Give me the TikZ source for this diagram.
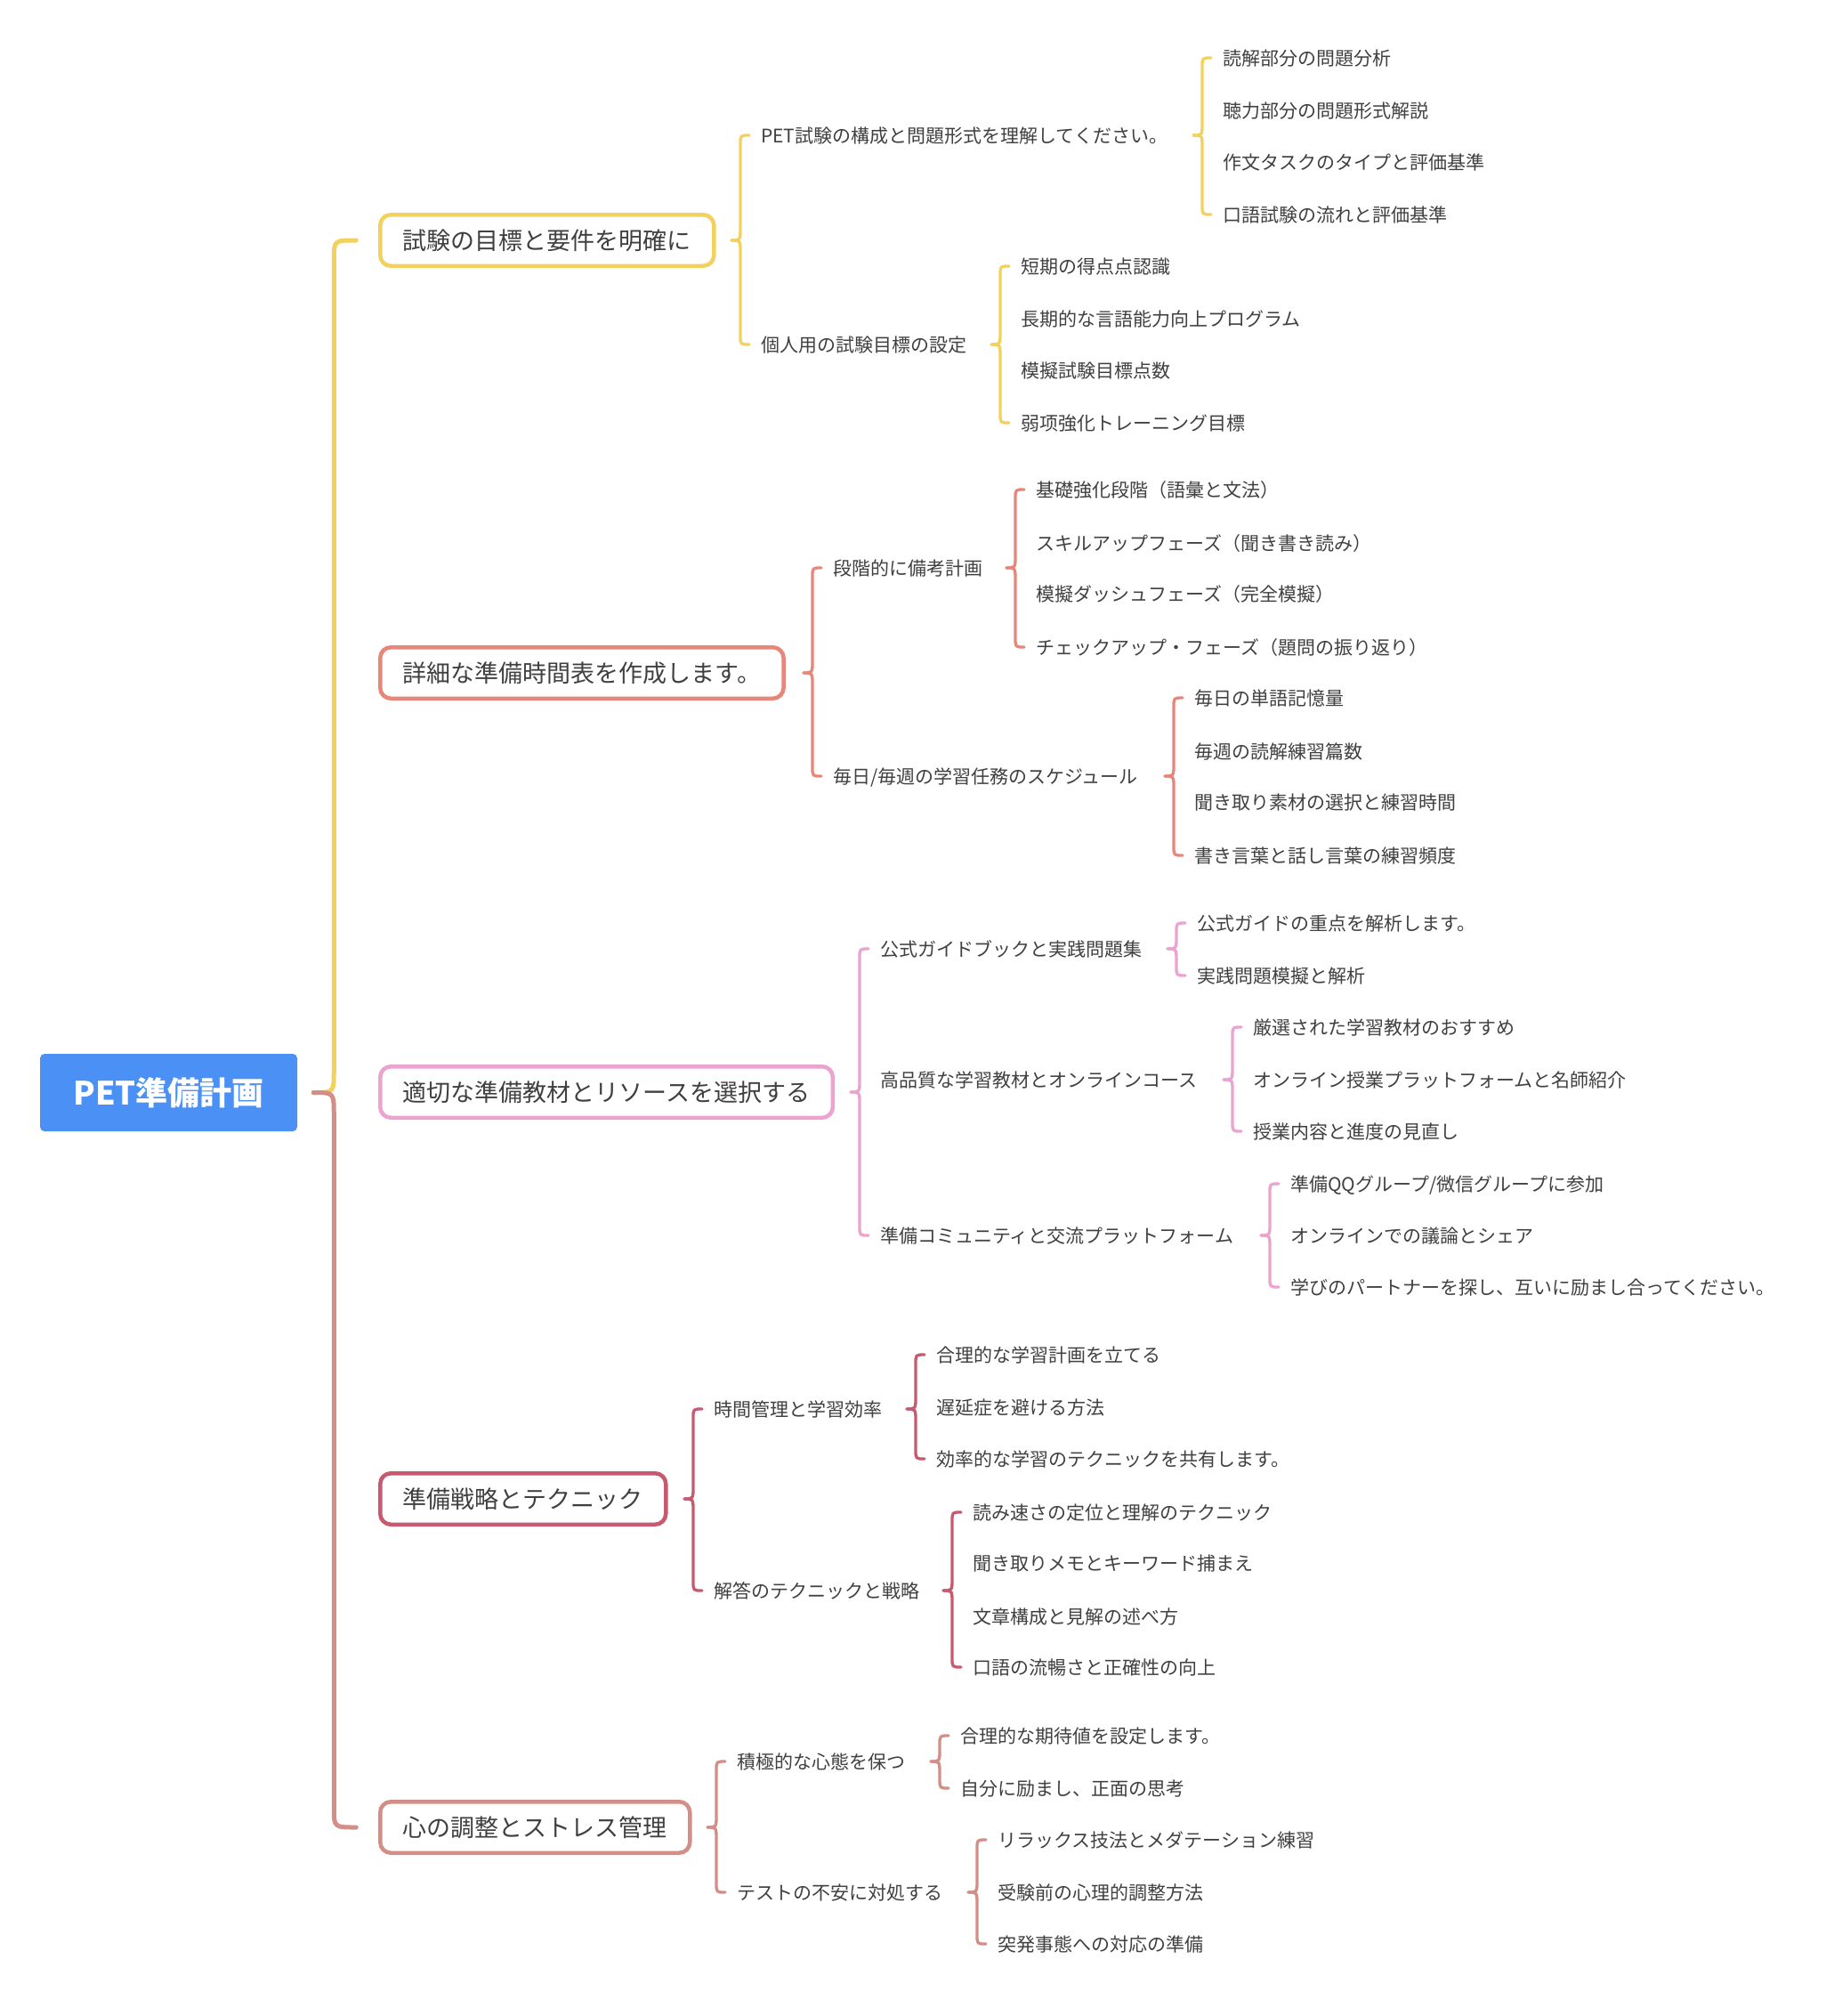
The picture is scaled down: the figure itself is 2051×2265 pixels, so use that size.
\documentclass[tikz,border=0pt]{standalone}
\usepackage{fontspec}
\setmainfont{Noto Sans CJK JP}
\usetikzlibrary{calc}
\definecolor{cY}{HTML}{F2D15E}
\definecolor{cS}{HTML}{E9867A}
\definecolor{cP}{HTML}{EBA3D0}
\definecolor{cC}{HTML}{C75A6E}
\definecolor{cB}{HTML}{D38E87}
\definecolor{rootblue}{HTML}{4A90F5}
\definecolor{txt}{HTML}{404040}
\tikzset{
  leaf/.style={anchor=west, inner sep=0pt, text=txt, font=\fontsize{21pt}{25pt}\selectfont, text height=18.5pt, text depth=2.5pt},
  topic/.style={draw=#1, line width=4.5pt, outer sep=0pt, rounded corners=12pt, fill=white, text=txt,
     font=\fontsize{27pt}{32pt}\selectfont, text height=23.8pt, text depth=3.2pt, inner xsep=25.5pt, inner ysep=0pt,
     minimum height=57.5pt, anchor=west},
  rootbox/.style={fill=rootblue, rounded corners=5pt, minimum width=289pt, minimum height=87pt, inner sep=0pt,
     text=white, font=\fontsize{36pt}{40pt}\selectfont\bfseries, text height=31.7pt, text depth=4.3pt},
  brc/.style={line width=3.3pt, line cap=round},
  mainline/.style={line width=5pt, line cap=round}
}
\newcommand\subbrc[3]{%
  \draw[brc,#3] let \p1=(#1.east), \p2=(#2.west), \n1={sign(\y2-\y1)} in
    (\x2-33pt,\y1) .. controls (\x2-23pt,\y1) .. (\x2-23pt,{\y1+(\n1)*14pt})
    -- (\x2-23pt,{\y2-(\n1)*10pt}) .. controls (\x2-23pt,\y2) .. (\x2-13pt,\y2);}
\newcommand\mainbrc[3]{%
  \draw[mainline,#3] let \p1=(#1.east), \p2=(#2.west), \n1={sign(\y2-\y1)} in
    (\x2-75pt,\y1) .. controls (\x2-52pt,\y1) .. (\x2-52pt,{\y1+(\n1)*25pt})
    -- (\x2-52pt,{\y2-(\n1)*22pt}) .. controls (\x2-52pt,\y2) .. (\x2-27pt,\y2);}
\begin{document}
\begin{tikzpicture}[x=1pt,y=-1pt]
\useasboundingbox (0,0) rectangle (2051,2265);
\fill[white] (0,0) rectangle (2051,2265);

% root
\node[rootbox] (root) at (189.5,1227.5) {PET準備計画};

% level 1
\node[topic=cY] (t1) at (427.25,270) {試験の目標と要件を明確に};
\node[topic=cS] (t2) at (427.25,756) {詳細な準備時間表を作成します。};
\node[topic=cP] (t3) at (427.25,1227) {適切な準備教材とリソースを選択する};
\node[topic=cC] (t4) at (427.25,1684) {準備戦略とテクニック};
\node[topic=cB] (t5) at (427.25,2053) {心の調整とストレス管理};

% level 2
\node[leaf] (a1) at (855,152) {PET試験の構成と問題形式を理解してください。};
\node[leaf] (a2) at (855,387) {個人用の試験目標の設定};
\node[leaf] (b1) at (936,638) {段階的に備考計画};
\node[leaf] (b2) at (936,872) {毎日/毎週の学習任務のスケジュール};
\node[leaf] (c1) at (989,1066) {公式ガイドブックと実践問題集};
\node[leaf] (c2) at (989,1213) {高品質な学習教材とオンラインコース};
\node[leaf] (c3) at (989,1388) {準備コミュニティと交流プラットフォーム};
\node[leaf] (d1) at (802,1583) {時間管理と学習効率};
\node[leaf] (d2) at (802,1787) {解答のテクニックと戦略};
\node[leaf] (e1) at (828,1979) {積極的な心態を保つ};
\node[leaf] (e2) at (828,2126) {テストの不安に対処する};

% level 3
\node[leaf] (a11) at (1374,65) {読解部分の問題分析};
\node[leaf] (a12) at (1374,124) {聴力部分の問題形式解説};
\node[leaf] (a13) at (1374,182) {作文タスクのタイプと評価基準};
\node[leaf] (a14) at (1374,241) {口語試験の流れと評価基準};
\node[leaf] (a21) at (1147,299) {短期の得点点認識};
\node[leaf] (a22) at (1147,358) {長期的な言語能力向上プログラム};
\node[leaf] (a23) at (1147,416) {模擬試験目標点数};
\node[leaf] (a24) at (1147,475) {弱项強化トレーニング目標};
\node[leaf] (b11) at (1164,550) {基礎強化段階（語彙と文法）};
\node[leaf] (b12) at (1164,610) {スキルアップフェーズ（聞き書き読み）};
\node[leaf] (b13) at (1164,667) {模擬ダッシュフェーズ（完全模擬）};
\node[leaf] (b14) at (1164,727) {チェックアップ・フェーズ（題問の振り返り）};
\node[leaf] (b21) at (1342,784) {毎日の単語記憶量};
\node[leaf] (b22) at (1342,844) {毎週の読解練習篇数};
\node[leaf] (b23) at (1342,901) {聞き取り素材の選択と練習時間};
\node[leaf] (b24) at (1342,961) {書き言葉と話し言葉の練習頻度};
\node[leaf] (c11) at (1345,1037) {公式ガイドの重点を解析します。};
\node[leaf] (c12) at (1345,1096) {実践問題模擬と解析};
\node[leaf] (c21) at (1408,1154) {厳選された学習教材のおすすめ};
\node[leaf] (c22) at (1408,1213) {オンライン授業プラットフォームと名師紹介};
\node[leaf] (c23) at (1408,1271) {授業内容と進度の見直し};
\node[leaf] (c31) at (1450,1330) {準備QQグループ/微信グループに参加};
\node[leaf] (c32) at (1450,1388) {オンラインでの議論とシェア};
\node[leaf] (c33) at (1450,1446) {学びのパートナーを探し、互いに励まし合ってください。};
\node[leaf] (d11) at (1052,1522) {合理的な学習計画を立てる};
\node[leaf] (d12) at (1052,1581) {遅延症を避ける方法};
\node[leaf] (d13) at (1052,1639) {効率的な学習のテクニックを共有します。};
\node[leaf] (d21) at (1093,1699) {読み速さの定位と理解のテクニック};
\node[leaf] (d22) at (1093,1756) {聞き取りメモとキーワード捕まえ};
\node[leaf] (d23) at (1093,1816) {文章構成と見解の述べ方};
\node[leaf] (d24) at (1093,1873) {口語の流暢さと正確性の向上};
\node[leaf] (e11) at (1079,1950) {合理的な期待値を設定します。};
\node[leaf] (e12) at (1079,2009) {自分に励まし、正面の思考};
\node[leaf] (e21) at (1121,2067) {リラックス技法とメダテーション練習};
\node[leaf] (e22) at (1121,2126) {受験前の心理的調整方法};
\node[leaf] (e23) at (1121,2184) {突発事態への対応の準備};

% connectors: root
\mainbrc{root}{t1}{cY}
\mainbrc{root}{t5}{cB}
% level 1 -> 2
\subbrc{t1}{a1}{cY} \subbrc{t1}{a2}{cY}
\subbrc{t2}{b1}{cS} \subbrc{t2}{b2}{cS}
\subbrc{t3}{c1}{cP} \subbrc{t3}{c3}{cP}
\subbrc{t4}{d1}{cC} \subbrc{t4}{d2}{cC}
\subbrc{t5}{e1}{cB} \subbrc{t5}{e2}{cB}
% level 2 -> 3
\subbrc{a1}{a11}{cY} \subbrc{a1}{a14}{cY}
\subbrc{a2}{a21}{cY} \subbrc{a2}{a24}{cY}
\subbrc{b1}{b11}{cS} \subbrc{b1}{b14}{cS}
\subbrc{b2}{b21}{cS} \subbrc{b2}{b24}{cS}
\subbrc{c1}{c11}{cP} \subbrc{c1}{c12}{cP}
\subbrc{c2}{c21}{cP} \subbrc{c2}{c23}{cP}
\subbrc{c3}{c31}{cP} \subbrc{c3}{c33}{cP}
\subbrc{d1}{d11}{cC} \subbrc{d1}{d13}{cC}
\subbrc{d2}{d21}{cC} \subbrc{d2}{d24}{cC}
\subbrc{e1}{e11}{cB} \subbrc{e1}{e12}{cB}
\subbrc{e2}{e21}{cB} \subbrc{e2}{e23}{cB}
\end{tikzpicture}
\end{document}
